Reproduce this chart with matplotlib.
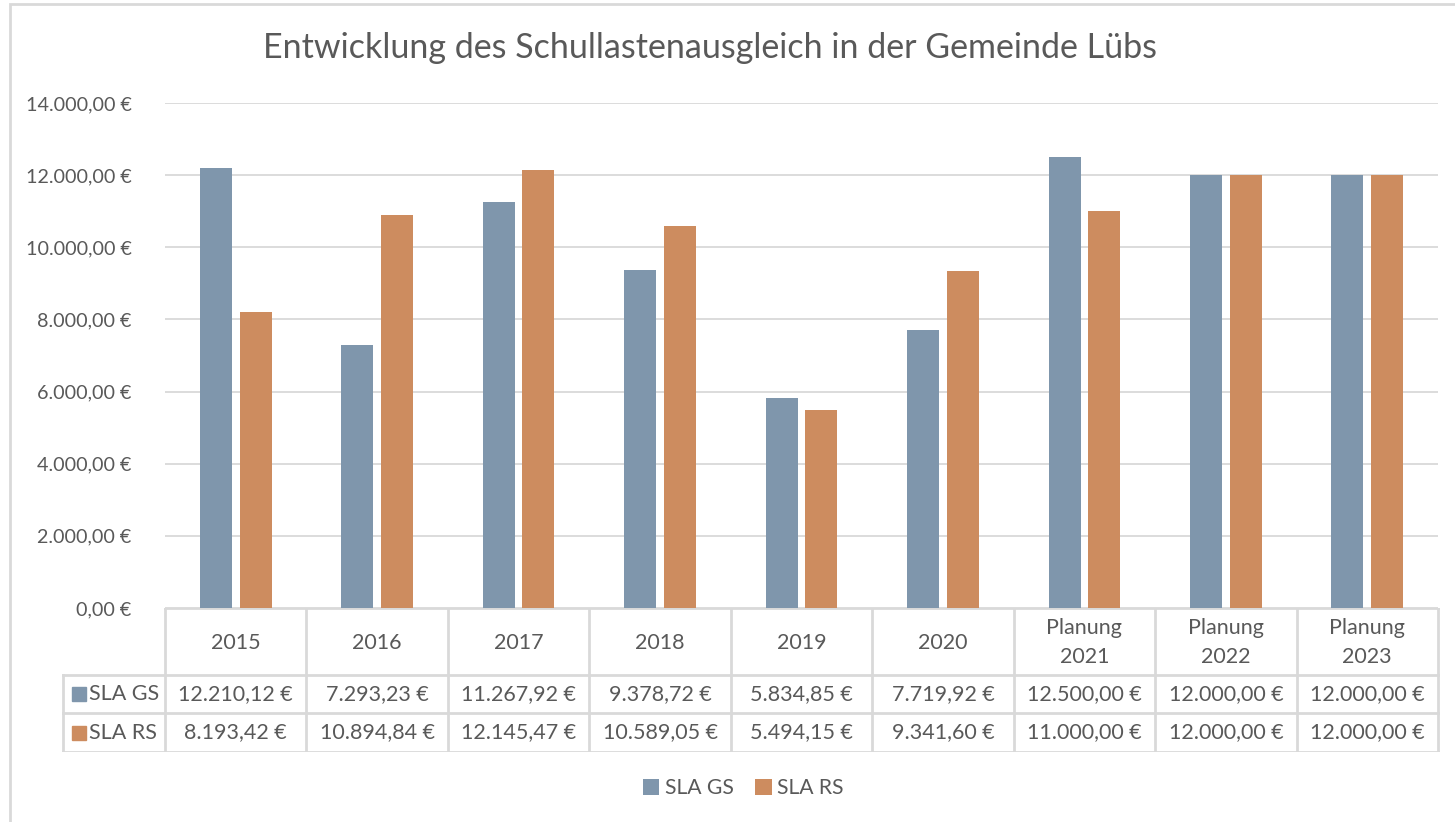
import numpy as np
import matplotlib.pyplot as plt
from matplotlib.patches import Rectangle

# Data
categories = ['2015', '2016', '2017', '2018', '2019', '2020',
              'Planung\n2021', 'Planung\n2022', 'Planung\n2023']
sla_gs = [12210.12, 7293.23, 11267.92, 9378.72, 5834.85, 7719.92, 12500.00, 12000.00, 12000.00]
sla_rs = [8193.42, 10894.84, 12145.47, 10589.05, 5494.15, 9341.60, 11000.00, 12000.00, 12000.00]
series_names = ['SLA GS', 'SLA RS']
yticks = np.arange(0, 14001, 2000)

c_gs = '#7F96AC'
c_rs = '#CD8C5F'
c_txt = '#595959'
c_grid = '#D9D9D9'

plt.rcParams['font.family'] = ['Lato', 'DejaVu Sans']


def eur(v):
    s = f'{v:,.2f}'
    s = s.replace(',', 'X').replace('.', ',').replace('X', '.')
    return s + ' €'


W, H = 1455, 822
fig = plt.figure(figsize=(W / 100, H / 100), dpi=100)

# outer chart border
fig.patches.append(Rectangle((10 / W, -0.2), 1.2, 1.2 - 4 / H, transform=fig.transFigure,
                             fill=False, edgecolor=c_grid, lw=2))

x0, x1, y0, y1 = 165, 1438, 608, 103
ax = fig.add_axes([x0 / W, 1 - y0 / H, (x1 - x0) / W, (y0 - y1) / H])

x = np.arange(len(categories))
bw = 0.226
ax.bar(x - 0.14, sla_gs, bw, color=c_gs, label=series_names[0])
ax.bar(x + 0.14, sla_rs, bw, color=c_rs, label=series_names[1])
ax.set_xlim(-0.5, len(categories) - 0.5)
ax.set_ylim(0, 14000)
ax.set_yticks(yticks)
ax.set_yticklabels([eur(v) for v in yticks], fontsize=14.2, color=c_txt)
ax.yaxis.grid(True, color=c_grid, lw=1.3)
ax.set_axisbelow(True)
ax.tick_params(axis='y', length=0, pad=24)
ax.tick_params(axis='x', length=0, labelbottom=False)
for sp in ax.spines.values():
    sp.set_visible(False)

# data table below the plot
t0, t1 = 608, 752
tab = fig.add_axes([0, 1 - t1 / H, 1, (t1 - t0) / H])
tab.set_xlim(0, W)
tab.set_ylim(t1, t0)
tab.axis('off')
colw = (x1 - x0) / len(categories)
rows = [t0, 675, 713, t1]
lw = 2
fs = 15.5
# horizontal lines
tab.plot([x0, x1], [rows[0], rows[0]], color=c_grid, lw=lw)
for r in rows[1:]:
    tab.plot([63, x1], [r, r], color=c_grid, lw=lw)
# vertical lines
for i in range(len(categories) + 1):
    tab.plot([x0 + i * colw] * 2, [t0, t1], color=c_grid, lw=lw)
tab.plot([63, 63], [rows[1], t1], color=c_grid, lw=lw)

for i, cat in enumerate(categories):
    cx = x0 + (i + 0.5) * colw
    tab.text(cx, (rows[0] + rows[1]) / 2 + 1, cat, ha='center', va='center',
             fontsize=fs, color=c_txt, linespacing=1.55)
    tab.text(cx, (rows[1] + rows[2]) / 2, eur(sla_gs[i]), ha='center', va='center',
             fontsize=fs, color=c_txt)
    tab.text(cx, (rows[2] + rows[3]) / 2, eur(sla_rs[i]), ha='center', va='center',
             fontsize=fs, color=c_txt)

for j, (name, col) in enumerate(zip(series_names, [c_gs, c_rs])):
    ym = (rows[j + 1] + rows[j + 2]) / 2
    tab.add_patch(Rectangle((72, ym - 7), 14, 14, color=col))
    tab.text(89, ym, name, ha='left', va='center', fontsize=fs, color=c_txt)

fig.text(710 / W, 1 - 48 / H, 'Entwicklung des Schullastenausgleich in der Gemeinde Lübs',
         ha='center', va='center', fontsize=24.5, color=c_txt)

fig.legend(loc='center', bbox_to_anchor=(743 / W, 1 - 788 / H), ncol=2, frameon=False,
           fontsize=15.2, labelcolor=c_txt, handlelength=0.8, handleheight=0.8,
           handletextpad=0.25, columnspacing=1.0)

fig.savefig('out.png', dpi=100)
